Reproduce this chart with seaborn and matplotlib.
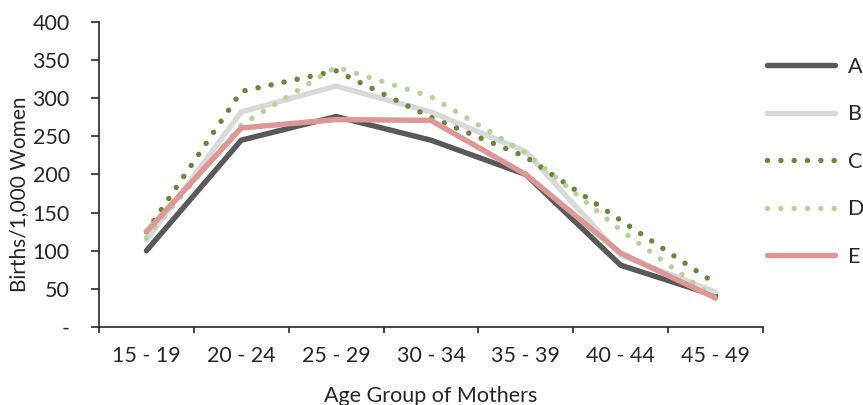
import pandas as pd
import matplotlib
matplotlib.use('Agg')
import matplotlib.pyplot as plt
import seaborn as sns

# 데이터
age_groups = ['15 - 19', '20 - 24', '25 - 29', '30 - 34', '35 - 39', '40 - 44', '45 - 49']
series_a = [100, 245, 276, 245, 200, 81, 41]
series_b = [114, 282, 316, 282, 230, 94, 46]
series_c = [125, 309, 336, 275, 223, 140, 57]
series_d = [117, 265, 341, 302, 228, 127, 37]
series_e = [125, 261, 272, 271, 200, 97, 38]
names = ['A', 'B', 'C', 'D', 'E']

rows = []
for name, vals in zip(names, [series_a, series_b, series_c, series_d, series_e]):
    for g, v in zip(age_groups, vals):
        rows.append({'age': g, 'rate': v, 'series': name})
df = pd.DataFrame(rows)

sns.set_style('ticks')
plt.rcParams['font.family'] = ['Lato', 'DejaVu Sans']

colors = {'A': '#595959', 'B': '#d9d9d9', 'C': '#67883a', 'D': '#b7d39c', 'E': '#dd9795'}
dots = (0.01, 2.45)
dashes = {'A': '', 'B': '', 'C': dots, 'D': dots, 'E': ''}
txt = '#262626'
fs = 15.5

fig = plt.figure(figsize=(8.63, 4.05), dpi=100)
ax = fig.add_axes([0.1147, 0.1926, 0.7693, 0.7531])

sns.lineplot(data=df, x='age', y='rate', hue='series', style='series',
             palette=colors, dashes=dashes, linewidth=3.9, sort=False,
             solid_capstyle='round', dash_capstyle='round', ax=ax)

ax.set_ylim(0, 400)
ax.set_yticks(range(0, 401, 50))
ax.set_yticklabels(['-'] + [str(v) for v in range(50, 401, 50)])
ax.set_xlim(-0.5, 6.5)
ax.set_xticks([i - 0.5 for i in range(8)])
ax.set_xticklabels([])
ax.set_xticks(range(7), minor=True)
ax.set_xticklabels(age_groups, minor=True)
ax.tick_params(axis='y', which='major', length=6, width=1.2, color=txt, pad=15,
               labelsize=fs, labelcolor=txt)
ax.tick_params(axis='x', which='major', length=4.5, width=1.2, color=txt)
ax.tick_params(axis='x', which='minor', length=0, pad=14, labelsize=fs, labelcolor=txt)

for s in ['left', 'bottom']:
    ax.spines[s].set_color(txt)
    ax.spines[s].set_linewidth(1.2)
sns.despine(ax=ax)

ax.set_xlabel('Age Group of Mothers', fontsize=fs, color=txt, labelpad=14)
ax.set_ylabel('Births/1,000 Women', fontsize=15, color=txt)
ax.yaxis.set_label_coords(-0.1055, 0.436)

handles, labels = ax.get_legend_handles_labels()
ax.legend(handles, labels, loc='upper left', bbox_to_anchor=(1.0067, 0.886),
          frameon=False, fontsize=fs, handlelength=3.15, labelspacing=1.28,
          handletextpad=0.59, borderpad=0, borderaxespad=0, labelcolor=txt)

fig.savefig('out.png', dpi=100)
